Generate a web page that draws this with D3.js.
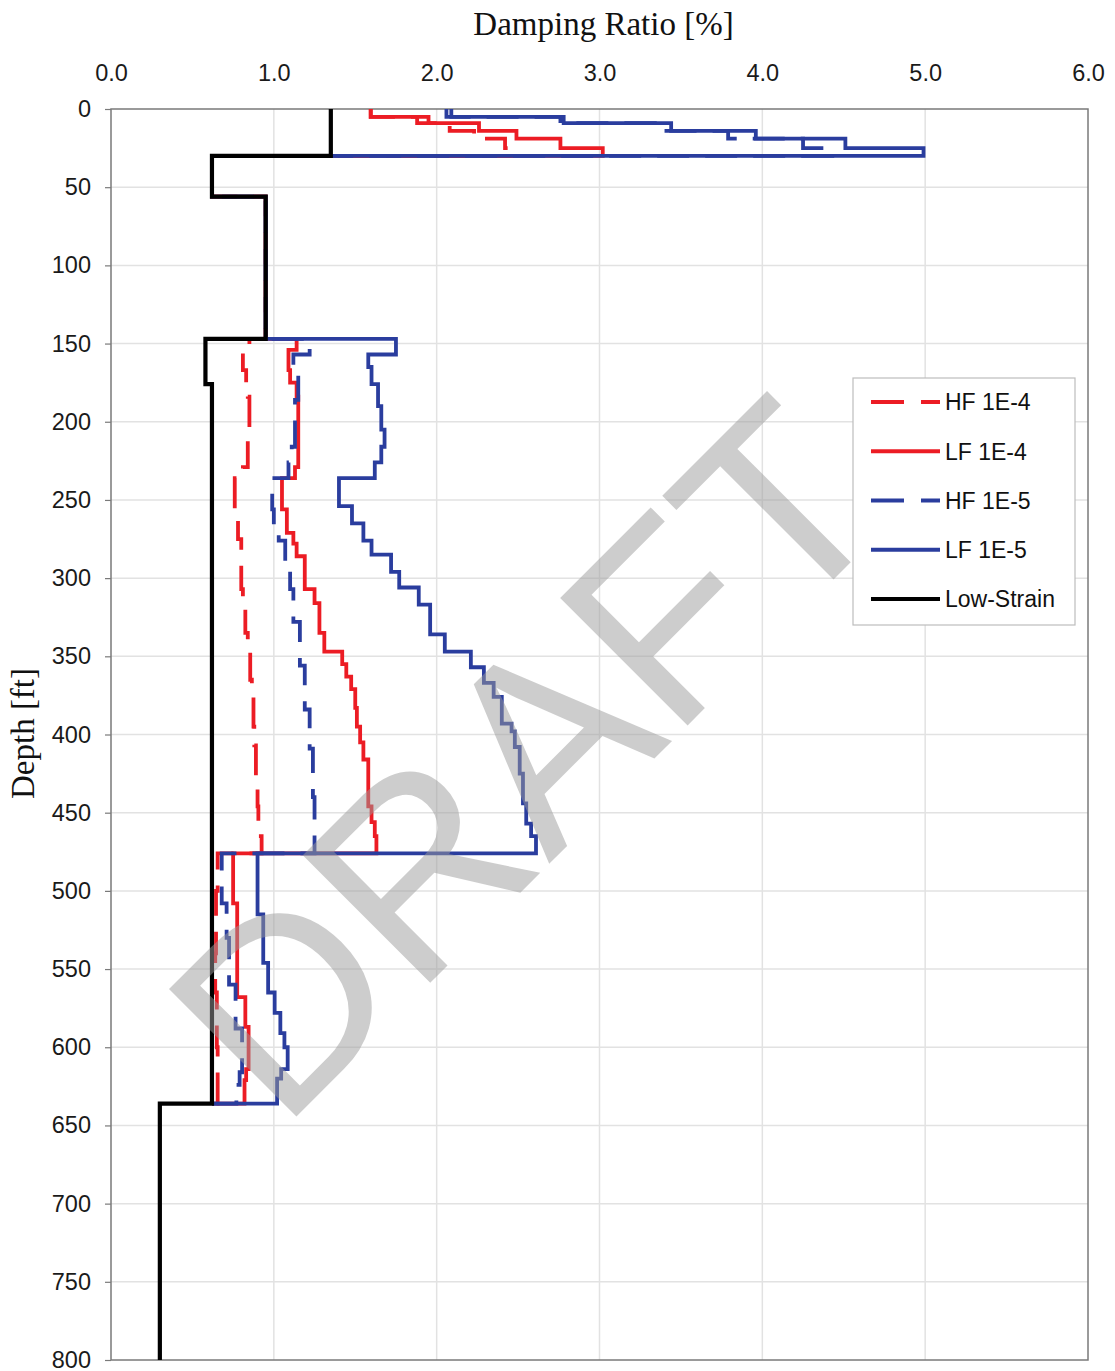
<!DOCTYPE html>
<html>
<head>
<meta charset="utf-8">
<script src="https://cdn.jsdelivr.net/npm/d3@7"></script>
<style>
  body { margin: 0; background: #ffffff; }
  svg { display: block; }
</style>
</head>
<body>
<svg id="chart" width="1115" height="1371"></svg>
<script>
// ---------------- DATA ----------------
const xTickValues = [0, 1, 2, 3, 4, 5, 6];
const xTickLabels = ["0.0", "1.0", "2.0", "3.0", "4.0", "5.0", "6.0"];
const yTickValues = [0, 50, 100, 150, 200, 250, 300, 350, 400, 450, 500, 550, 600, 650, 700, 750, 800];

const seriesNames = ["HF 1E-4", "LF 1E-4", "HF 1E-5", "LF 1E-5", "Low-Strain"];

// Low-strain profile (layer boundaries in ft, damping in %)
const lowStrainDepth = [0, 30, 56, 147, 176, 636, 800];
const lowStrainValue = [1.35, 0.62, 0.95, 0.58, 0.62, 0.30];

// Shallow layers (0-30 ft)
const topDepth = [0, 5, 9, 14, 19, 25, 30];
const hf4TopValue = [1.595, 1.88, 2.08, 2.23, 2.42, 2.48];
const lf4TopValue = [1.595, 1.95, 2.26, 2.49, 2.76, 3.02];
const hf5TopValue = [2.06, 2.76, 3.34, 3.79, 4.25, 4.43];
const lf5TopValue = [2.09, 2.78, 3.44, 3.96, 4.51, 4.99];

// Deep layers (147-636 ft)
const hf4DeepDepth = [147,154,167,175,184,212,229,236,256,275,307,316,335,347,365,375,395,407,427,446,465,476,500,540,565,600,636];
const hf4DeepValue = [0.85,0.81,0.83,0.84,0.85,0.84,0.81,0.76,0.78,0.80,0.81,0.825,0.84,0.855,0.865,0.875,0.88,0.89,0.90,0.905,0.925,0.655,0.645,0.64,0.65,0.655];

const lf4DeepDepth = [147,154,167,175,184,229,236,256,271,278,286,307,316,335,347,355,363,371,383,395,405,416,446,456,465,476,508,568,587,614,621,636];
const lf4DeepValue = [1.14,1.09,1.10,1.14,1.15,1.13,1.05,1.08,1.12,1.14,1.19,1.25,1.28,1.31,1.42,1.445,1.475,1.50,1.51,1.53,1.55,1.58,1.60,1.62,1.63,0.75,0.775,0.825,0.845,0.83,0.82];

const hf5DeepDepth = [147,157,170,186,216,226,236,256,266,276,291,307,328,356,384,409,440,476,508,530,560,588,616,624,636];
const hf5DeepValue = [1.22,1.12,1.15,1.13,1.11,1.09,0.99,1.00,1.03,1.07,1.10,1.12,1.16,1.19,1.22,1.24,1.25,0.68,0.71,0.725,0.765,0.805,0.79,0.77];

const lf5DeepDepth = [147,157,165,176,190,205,216,226,236,254,265,276,285,296,306,317,336,347,357,367,376,393,398,408,425,444,457,465,476,515,546,565,578,591,600,614,620,636];
const lf5DeepValue = [1.75,1.58,1.60,1.64,1.66,1.68,1.66,1.62,1.40,1.48,1.55,1.60,1.72,1.77,1.89,1.96,2.05,2.21,2.29,2.35,2.40,2.46,2.48,2.51,2.53,2.55,2.58,2.61,0.90,0.935,0.965,1.005,1.04,1.065,1.085,1.045,1.02];

// ---------------- STYLES ----------------
const RED = "#ec1c24", BLUE = "#2a3d9e", BLACK = "#000000";
const styles = {
  "HF 1E-4": { color: RED, dash: "32,16", width: 3.8 },
  "LF 1E-4": { color: RED, dash: null, width: 3.8 },
  "HF 1E-5": { color: BLUE, dash: "32,16", width: 3.8 },
  "LF 1E-5": { color: BLUE, dash: null, width: 3.8 },
  "Low-Strain": { color: BLACK, dash: null, width: 4.2 }
};
const SANS = "'Liberation Sans', Arial, sans-serif";
const SERIF = "'Liberation Serif', 'Times New Roman', serif";

// ---------------- HELPERS ----------------
function steps(depths, values) {
  const pts = [];
  values.forEach((v, i) => { pts.push([v, depths[i]]); pts.push([v, depths[i + 1]]); });
  return pts;
}
function lowStrainIndexAt(d) {
  for (let i = 0; i < lowStrainValue.length; i++) {
    if (d >= lowStrainDepth[i] && d < lowStrainDepth[i + 1]) return i;
  }
  return lowStrainValue.length - 1;
}
function profile(topVals, deepDepth, deepVals) {
  const pts = steps(topDepth, topVals);
  const d0 = topDepth[topDepth.length - 1], d1 = deepDepth[0];
  for (let i = 0; i < lowStrainValue.length; i++) {
    if (lowStrainDepth[i] >= d0 && lowStrainDepth[i + 1] <= d1) {
      pts.push([lowStrainValue[i], lowStrainDepth[i]]);
      pts.push([lowStrainValue[i], lowStrainDepth[i + 1]]);
    }
  }
  pts.push(...steps(deepDepth, deepVals));
  const dEnd = deepDepth[deepDepth.length - 1];
  pts.push([lowStrainValue[lowStrainIndexAt(dEnd - 0.01)], dEnd]);
  return pts;
}

// ---------------- CHART ----------------
const svg = d3.select("#chart");
const x = d3.scaleLinear().domain([0, 6]).range([111, 1088]);
const y = d3.scaleLinear().domain([0, 800]).range([109, 1360]);

// gridlines
const grid = svg.append("g");
grid.selectAll("line.v").data(xTickValues.slice(1, -1)).enter().append("line")
  .attr("x1", d => x(d)).attr("x2", d => x(d)).attr("y1", y(0)).attr("y2", y(800))
  .attr("stroke", "#e2e2e2").attr("stroke-width", 1.5);
grid.selectAll("line.h").data(yTickValues.slice(1, -1)).enter().append("line")
  .attr("x1", x(0)).attr("x2", x(6)).attr("y1", d => y(d)).attr("y2", d => y(d))
  .attr("stroke", "#e2e2e2").attr("stroke-width", 1.5);

// frame
svg.append("rect").attr("x", x(0)).attr("y", y(0))
  .attr("width", x(6) - x(0)).attr("height", y(800) - y(0))
  .attr("fill", "none").attr("stroke", "#7a7a7a").attr("stroke-width", 1.5);

// axes
const yAxis = d3.axisLeft(y).tickValues(yTickValues).tickSize(6).tickPadding(14).tickFormat(d3.format("d"));
const gy = svg.append("g").attr("transform", `translate(${x(0)},0)`).call(yAxis);
gy.select(".domain").remove();
gy.selectAll(".tick line").attr("stroke", "#7a7a7a").attr("stroke-width", 1.2);
gy.selectAll(".tick text").attr("font-family", SANS).attr("font-size", 23.5).attr("fill", "#1a1a1a");

const xAxis = d3.axisTop(x).tickValues(xTickValues).tickSize(0).tickPadding(28)
  .tickFormat((d, i) => xTickLabels[i]);
const gx = svg.append("g").attr("transform", `translate(0,${y(0)})`).call(xAxis);
gx.select(".domain").remove();
gx.selectAll(".tick text").attr("font-family", SANS).attr("font-size", 23.5).attr("fill", "#1a1a1a");

// axis titles
svg.append("text").attr("x", (x(0) + x(6)) / 2 + 4).attr("y", 35)
  .attr("text-anchor", "middle").attr("font-family", SERIF).attr("font-size", 33)
  .attr("fill", "#111").text("Damping Ratio [%]");
svg.append("text").attr("transform", `translate(34,${(y(0) + y(800)) / 2 - 1}) rotate(-90)`)
  .attr("text-anchor", "middle").attr("font-family", SERIF).attr("font-size", 33)
  .attr("fill", "#111").text("Depth [ft]");

// series
const seriesPoints = {
  "HF 1E-4": profile(hf4TopValue, hf4DeepDepth, hf4DeepValue),
  "LF 1E-4": profile(lf4TopValue, lf4DeepDepth, lf4DeepValue),
  "HF 1E-5": profile(hf5TopValue, hf5DeepDepth, hf5DeepValue),
  "LF 1E-5": profile(lf5TopValue, lf5DeepDepth, lf5DeepValue),
  "Low-Strain": steps(lowStrainDepth, lowStrainValue)
};
const line = d3.line().x(d => x(d[0])).y(d => y(d[1]));
const gLines = svg.append("g");
seriesNames.forEach(name => {
  const s = styles[name];
  gLines.append("path").datum(seriesPoints[name])
    .attr("d", line).attr("fill", "none")
    .attr("stroke", s.color).attr("stroke-width", s.width)
    .attr("stroke-dasharray", s.dash)
    .attr("stroke-linejoin", "miter").attr("stroke-linecap", "butt");
});

// legend
const lg = svg.append("g");
lg.append("rect").attr("x", 853).attr("y", 378).attr("width", 222).attr("height", 247)
  .attr("fill", "#ffffff").attr("stroke", "#bdbdbd").attr("stroke-width", 1.2);
const rowY = d3.scalePoint().domain(seriesNames).range([402, 599]);
seriesNames.forEach(name => {
  const s = styles[name];
  lg.append("line").attr("x1", 871).attr("x2", 940).attr("y1", rowY(name)).attr("y2", rowY(name))
    .attr("stroke", s.color).attr("stroke-width", s.width)
    .attr("stroke-dasharray", s.dash ? "33,17" : null);
  lg.append("text").attr("x", 945).attr("y", rowY(name)).attr("dy", "0.36em")
    .attr("font-family", SANS).attr("font-size", 23).attr("fill", "#111").text(name);
});

// watermark
svg.append("text").attr("transform", "translate(590,823) rotate(-45)")
  .attr("text-anchor", "middle").attr("font-family", SANS).attr("font-size", 262)
  .attr("fill", "#9c9c9c").attr("fill-opacity", 0.5).text("DRAFT");
</script>
</body>
</html>
